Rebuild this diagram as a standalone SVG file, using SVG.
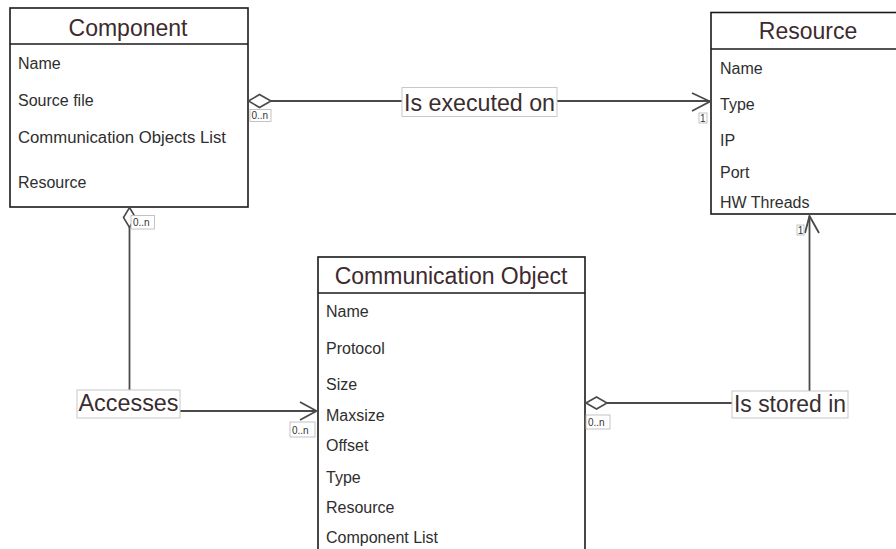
<svg xmlns="http://www.w3.org/2000/svg" width="896" height="549" viewBox="0 0 896 549">
  <style>
    .box { fill: #ffffff; stroke: #1a1a1a; stroke-width: 1.6; }
    .sep { stroke: #1a1a1a; stroke-width: 1.6; }
    .title { font-family: "Liberation Sans", Arial, sans-serif; font-size: 23px; fill: #3d2a2e; text-anchor: middle; }
    .attr { font-family: "Liberation Sans", Arial, sans-serif; font-size: 16px; fill: #2e2e2e; }
    .edge { fill: none; stroke: #4a4a4a; stroke-width: 1.8; }
    .diamond { fill: #ffffff; stroke: #4a4a4a; stroke-width: 1.6; }
    .lbl-bg { fill: #ffffff; stroke: #c8c8c8; stroke-width: 1; }
    .lbl { font-family: "Liberation Sans", Arial, sans-serif; font-size: 23px; fill: #3a2d2f; }
    .mult-bg { fill: #ffffff; stroke: #b5b5b5; stroke-width: 0.8; }
    .mult { font-family: "Liberation Sans", Arial, sans-serif; font-size: 10px; fill: #333333; }
  </style>

  <!-- Component class -->
  <g id="component">
    <rect class="box" x="10" y="8" width="238" height="199"/>
    <line class="sep" x1="10" y1="44" x2="248" y2="44"/>
    <text class="title" x="128" y="36">Component</text>
    <text class="attr" x="18" y="69">Name</text>
    <text class="attr" x="18" y="106">Source file</text>
    <text class="attr" x="18" y="142.5" textLength="208" lengthAdjust="spacingAndGlyphs">Communication Objects List</text>
    <text class="attr" x="18" y="187.5">Resource</text>
  </g>

  <!-- Resource class -->
  <g id="resource">
    <rect class="box" x="711" y="12.5" width="196" height="201.5"/>
    <line class="sep" x1="711" y1="49" x2="907" y2="49"/>
    <text class="title" x="808" y="39">Resource</text>
    <text class="attr" x="720" y="74">Name</text>
    <text class="attr" x="720" y="110">Type</text>
    <text class="attr" x="720" y="145.5">IP</text>
    <text class="attr" x="720" y="177.5">Port</text>
    <text class="attr" x="720" y="207.5">HW Threads</text>
  </g>

  <!-- Communication Object class -->
  <g id="communication-object">
    <rect class="box" x="318" y="257" width="267" height="300"/>
    <line class="sep" x1="318" y1="293" x2="585" y2="293"/>
    <text class="title" x="451" y="284">Communication Object</text>
    <text class="attr" x="326" y="317">Name</text>
    <text class="attr" x="326" y="353.5">Protocol</text>
    <text class="attr" x="326" y="390">Size</text>
    <text class="attr" x="326" y="421">Maxsize</text>
    <text class="attr" x="326" y="451">Offset</text>
    <text class="attr" x="326" y="483">Type</text>
    <text class="attr" x="326" y="513">Resource</text>
    <text class="attr" x="326" y="543">Component List</text>
  </g>

  <!-- Associations -->
  <g id="connectors">
    <!-- Component "Is executed on" Resource -->
    <g id="is-executed-on">
      <line class="edge" x1="271" y1="101" x2="402" y2="101"/>
      <line class="edge" x1="557" y1="101" x2="710" y2="101"/>
      <polyline class="edge" points="692,93 710,101.5 692,111"/>
      <polygon class="diamond" points="248.5,101 259.5,94.5 271,101 259.5,107.5"/>
      <rect class="lbl-bg" x="402" y="87.5" width="155" height="29"/>
      <text class="lbl" x="404" y="111" textLength="151" lengthAdjust="spacingAndGlyphs">Is executed on</text>
      <rect class="mult-bg" x="250" y="109.5" width="21" height="12"/>
      <text class="mult" x="251.5" y="119">0..n</text>
      <rect class="mult-bg" x="699" y="113" width="8" height="10"/>
      <text class="mult" x="700" y="121.5">1</text>
    </g>

    <!-- Component "Accesses" Communication Object -->
    <g id="accesses">
      <line class="edge" x1="129.5" y1="227" x2="129.5" y2="390"/>
      <line class="edge" x1="180" y1="411" x2="316" y2="411"/>
      <polyline class="edge" points="300,402 316.5,411 300,420"/>
      <polygon class="diamond" points="129.5,207.5 135.5,217.5 129.5,227.5 123.5,217.5"/>
      <rect class="mult-bg" x="131" y="215.5" width="23.5" height="13.5"/>
      <text class="mult" x="133" y="226">0..n</text>
      <rect class="lbl-bg" x="77" y="390" width="103" height="28"/>
      <text class="lbl" x="78.5" y="411" textLength="100" lengthAdjust="spacingAndGlyphs">Accesses</text>
      <rect class="mult-bg" x="290" y="422" width="25" height="15"/>
      <text class="mult" x="292" y="433.5">0..n</text>
    </g>

    <!-- Communication Object "Is stored in" Resource -->
    <g id="is-stored-in">
      <line class="edge" x1="809.5" y1="216" x2="809.5" y2="391"/>
      <line class="edge" x1="607" y1="403" x2="732" y2="403"/>
      <polyline class="edge" points="805,233 809.5,216 819,233"/>
      <polygon class="diamond" points="586,403 596.5,397 607,403 596.5,409"/>
      <rect class="lbl-bg" x="732" y="391" width="116" height="27"/>
      <text class="lbl" x="734" y="411.5" textLength="112" lengthAdjust="spacingAndGlyphs">Is stored in</text>
      <rect class="mult-bg" x="586" y="415" width="24" height="14"/>
      <text class="mult" x="588" y="425.5">0..n</text>
      <rect class="mult-bg" x="797" y="225" width="7" height="10"/>
      <text class="mult" x="797.8" y="233.5">1</text>
    </g>
  </g>
</svg>
